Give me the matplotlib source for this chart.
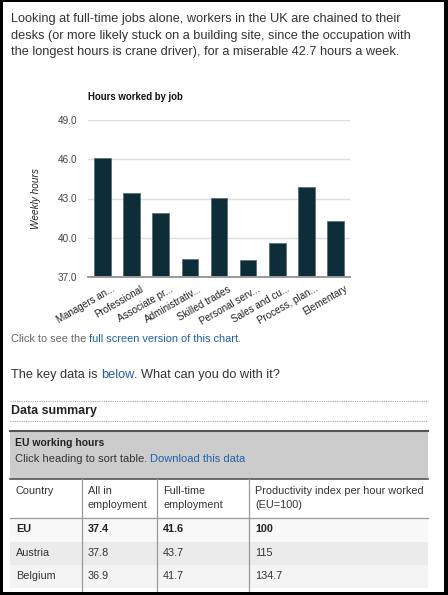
import matplotlib
matplotlib.use('Agg')
import matplotlib.pyplot as plt
from matplotlib.patches import Rectangle

plt.rcParams['font.family'] = ['Liberation Sans', 'DejaVu Sans']

# chart data
jobs = ['Managers an...', 'Professional', 'Associate pr...', 'Administrativ...', 'Skilled trades',
        'Personal serv...', 'Sales and cu...', 'Process, plan...', 'Elementary']
hours = [46.1, 43.4, 41.9, 38.4, 43.0, 38.3, 39.6, 43.9, 41.3]
y_ticks = [37.0, 40.0, 43.0, 46.0, 49.0]

# table data
table_cols = ['Country', 'All in\nemployment', 'Full-time\nemployment',
              'Productivity index per hour worked\n(EU=100)']
countries = ['EU', 'Austria', 'Belgium']
all_in = ['37.4', '37.8', '36.9']
full_time = ['41.6', '43.7', '41.7']
productivity = ['100', '115', '134.7']

TEXT = '#333333'
LINK = '#1f62a8'
W, H = 448, 595

fig = plt.figure(figsize=(W / 100, H / 100), dpi=100)
page = fig.add_axes([0, 0, 1, 1])
page.set_xlim(0, W)
page.set_ylim(H, 0)
page.axis('off')
renderer = fig.canvas.get_renderer()


def measure(s, size, weight='normal'):
    t = page.text(0, 0, s + 'M', fontsize=size, weight=weight)
    m = page.text(0, 0, 'M', fontsize=size, weight=weight)
    w = t.get_window_extent(renderer).width - m.get_window_extent(renderer).width
    t.remove()
    m.remove()
    return w


def run_text(x, y, parts, size, weight='normal'):
    done = ''
    for s, c in parts:
        page.text(x + measure(done, size, weight) if done else x, y, s, color=c,
                  fontsize=size, weight=weight, va='center_baseline')
        done += s


# intro paragraph
intro = ['Looking at full-time jobs alone, workers in the UK are chained to their',
         'desks (or more likely stuck on a building site, since the occupation with',
         'the longest hours is crane driver), for a miserable 42.7 hours a week.']
for i, line in enumerate(intro):
    page.text(11, 17.5 + i * 16.6, line, fontsize=9.2, color=TEXT, va='center_baseline')

# bar chart
ax = fig.add_axes([88 / W, 1 - 277 / H, (350 - 88) / W, (277 - 120) / H])
x = list(range(len(jobs)))
ax.bar(x, [h - 37 for h in hours], bottom=37, width=0.57, color='#0d2e38',
       edgecolor='#5d6f75', linewidth=0.6, zorder=3)
ax.set_xlim(-0.5, len(jobs) - 0.5)
ax.set_ylim(37, 49)
ax.set_yticks(y_ticks)
ax.set_yticklabels(['%.1f' % v for v in y_ticks], fontsize=7.2, color='#444444')
# labels sit a little right of the bar centre, like the original
ax.set_xticks([i + 0.3 for i in x])
ax.set_xticklabels(jobs, rotation=30, ha='right', rotation_mode='anchor', fontsize=7.1, color='#222222')
ax.tick_params(length=0, axis='y', pad=8)
ax.tick_params(length=0, axis='x', pad=5)
ax.grid(axis='y', color='#dddddd', linewidth=1, zorder=0)
for s in ['left', 'right', 'top']:
    ax.spines[s].set_visible(False)
ax.spines['bottom'].set_color('#999999')
ax.spines['bottom'].set_linewidth(1.4)
ax.spines['bottom'].set_zorder(4)
ax.set_ylabel('Weekly hours', fontsize=7.2, style='italic', color='#222222', labelpad=12)
page.text(88, 97, 'Hours worked by job', fontsize=6.9, weight='bold', color='#111111', va='center')

run_text(11, 337.5, [('Click to see the ', '#666666'), ('full screen version of this chart', LINK),
                     ('.', '#666666')], 7.9)
run_text(11, 373.5, [('The key data is ', TEXT), ('below', LINK), ('. What can you do with it?', TEXT)], 9.2)

page.plot([10, 428], [401, 401], color='#aaaaaa', linewidth=0.8, linestyle=(0, (1, 1)))
page.plot([10, 428], [421, 421], color='#aaaaaa', linewidth=0.8, linestyle=(0, (1, 1)))
page.text(11, 411, 'Data summary', fontsize=8.9, weight='bold', color='#222222', va='center')

# table
page.add_patch(Rectangle((10, 431), 418, 48, facecolor='#cccccc', edgecolor='none'))
page.plot([10, 428], [431, 431], color='#555555', linewidth=1.5)
page.text(15, 442.5, 'EU working hours', fontsize=7.5, weight='bold', color='#222222', va='center')
run_text(15, 458.5, [('Click heading to sort table. ', TEXT), ('Download this data', LINK)], 8.05)
page.plot([10, 428], [479, 479], color='#555555', linewidth=1.2)

col_x = [10, 82, 157, 249, 428]
row_top = [518, 541.5, 564.5, 588]
row_bg = ['#f8f8f8', '#ebebeb', '#f4f4f4']
for i in range(3):
    page.add_patch(Rectangle((10, row_top[i]), 418, row_top[i + 1] - row_top[i],
                             facecolor=row_bg[i], edgecolor='none'))
page.plot([10, 428], [518, 518], color='#999999', linewidth=0.9)
for cx in col_x[1:4]:
    page.plot([cx, cx], [479, 595], color='#999999', linewidth=0.9)
for j, name in enumerate(table_cols):
    for k, part in enumerate(name.split('\n')):
        page.text(col_x[j] + 6, 489.5 + k * 14, part, fontsize=7.85, color=TEXT, va='center_baseline')
for i in range(3):
    row = [countries[i], all_in[i], full_time[i], productivity[i]]
    for j, val in enumerate(row):
        page.text(col_x[j] + 6, row_top[i] + 10.5, val, fontsize=7.85, color='#222222' if i == 0 else TEXT,
                  weight='bold' if i == 0 else 'normal', va='center_baseline')

# screenshot frame
for r in [(0, 0, 3, H), (0, 0, W, 2), (444, 0, 4, H), (0, 592, W, 3)]:
    page.add_patch(Rectangle((r[0], r[1]), r[2], r[3], facecolor='black', edgecolor='none', zorder=10))

fig.savefig('out.png', dpi=100)
